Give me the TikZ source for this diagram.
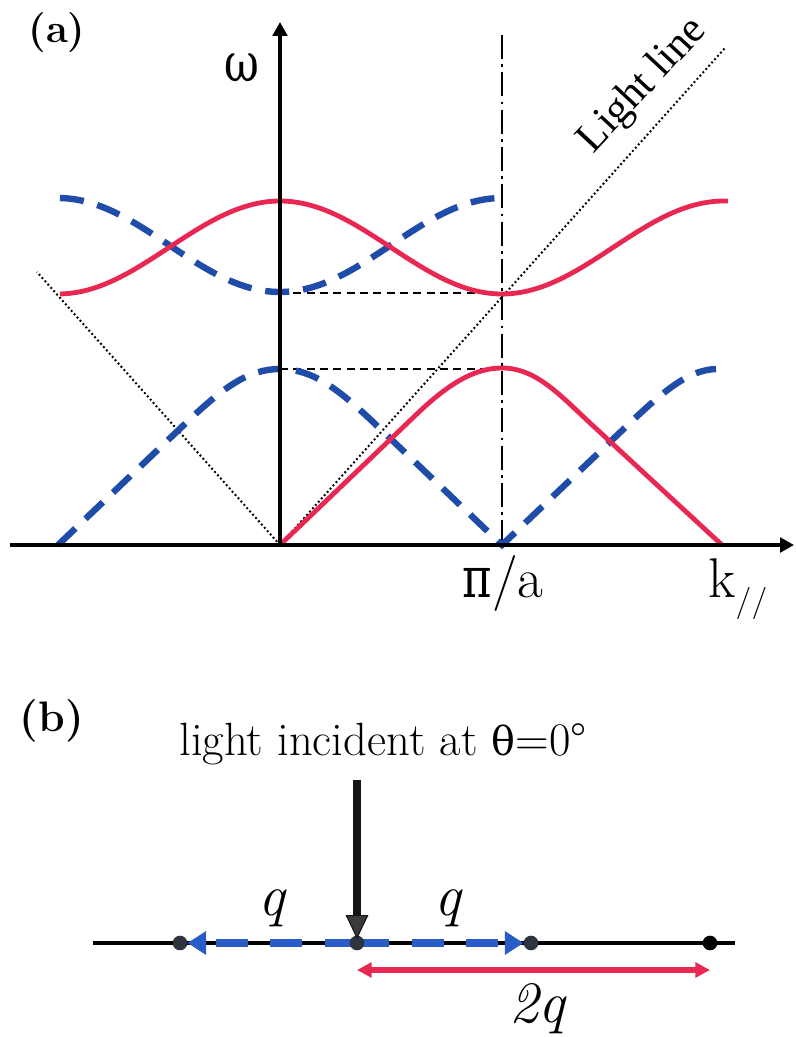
\documentclass[tikz,border=0pt]{standalone}
\usepackage{fontspec}
\setmainfont{Latin Modern Roman}
\newfontfamily\tnr{Liberation Serif}
\newfontfamily\grk{DejaVu Serif}
\usetikzlibrary{arrows.meta}
\definecolor{bred}{RGB}{232,40,82}
\definecolor{bblue}{RGB}{30,76,168}
\definecolor{lblue}{RGB}{42,92,200}
\definecolor{dotgray}{RGB}{45,52,62}
\definecolor{arrowgray}{RGB}{58,58,58}
\begin{document}
\begin{tikzpicture}[x=0.75pt,y=-0.75pt,
  axis/.style={line width=2.8pt, -{Triangle[length=10.5pt,width=11pt]}},
  redcurve/.style={bred, line width=3.6pt, line join=round},
  bluedash/.style={bblue, line width=4.8pt, dash pattern=on 18pt off 10.5pt},
  lightdot/.style={line width=1.5pt, dash pattern=on 1.4pt off 1.9pt},
  guidedash/.style={line width=1.5pt, dash pattern=on 6pt off 4pt},
  dashdotline/.style={line width=1.4pt, dash pattern=on 18pt off 4pt on 2pt off 4pt},
  txt/.style={inner sep=0pt, font=\fontsize{20}{24}\selectfont},
  lbl/.style={txt, anchor=base},
  dotn/.style={circle, fill=dotgray, minimum size=11pt, inner sep=0pt},
  qdash/.style={lblue, line width=6.5pt, dash pattern=on 24pt off 17pt, -{Triangle[length=14pt,width=17pt]}},
]
\useasboundingbox (0,0) rectangle (795,1037);

% ---------- panel (a) ----------
\coordinate (G) at (280,545);
\coordinate (P) at (502,545);
\coordinate (LLend) at (725,48);
\coordinate (LLleft) at (37,272);
\coordinate (DDtop) at (502,35);
\coordinate (H1a) at (280,293);
\coordinate (H1b) at (502,293);
\coordinate (H2a) at (280,369);
\coordinate (H2b) at (502,369);
\coordinate (Xl) at (10,545);
\coordinate (Xr) at (794,545);
\coordinate (Yt) at (280,22);

\draw[lightdot] (G) -- (LLend);
\draw[lightdot] (G) -- (LLleft);
\draw[dashdotline] (DDtop) -- (P);
\draw[guidedash] (H1a) -- (H1b);
\draw[guidedash] (H2a) -- (H2b);

% blue dashed bands
\draw[bluedash] plot[domain=60:502, samples=120] (\x,{245+47*cos(0.81081*(\x-280))});
\draw[bluedash] (58,545) -- (188,421) .. controls (223,388) and (248,369) .. (280,369)
  .. controls (312,369) and (337,388) .. (372,421) -- (502,545) -- (632,421)
  .. controls (667,388) and (690,370) .. (716,369);

% red solid bands
\draw[redcurve] plot[domain=60:728, samples=160] (\x,{247.5-46.5*cos(0.81081*(\x-280))});
\draw[redcurve] (G) -- (420,411) .. controls (450,383) and (475,368) .. (502,368)
  .. controls (535,368) and (558,393) .. (590,423) -- (722,545);

% axes
\draw[axis] (Xl) -- (Xr);
\draw[axis] (G) -- (Yt);

% labels (a)
\node[lbl, scale=1.5] (alabel) at (57,43) {\bfseries (a)};
\node[lbl, scale=2.0] (omega) at (242,82) {\grk\scalebox{0.8}[1]{ω}};
\node[lbl, scale=2.1] (pia) at (503,597) {{\grk\scalebox{0.8}[1]{π}}/a};
\node[lbl, anchor=base west, scale=2.1] (kpar) at (708,597)
  {k\raisebox{-5pt}{\fontsize{11.5}{13}\selectfont //}};
\node[txt, rotate=47, scale=1.6, font=\tnr\fontsize{20}{24}\selectfont] (lightline) at (643,86) {Light line};

% ---------- panel (b) ----------
\node[lbl, scale=1.6] (blabel) at (52,731) {\bfseries (b)};
\node[lbl, scale=1.75] (incid) at (383,755)
  {light incident at {\grk\fontsize{17}{20}\selectfont θ}=0°};

\coordinate (hl) at (93,943);
\coordinate (hr) at (735,943);
\draw[line width=3pt] (hl) -- (hr);

\coordinate (c1) at (180,943);
\coordinate (c2) at (357,943);
\coordinate (c3) at (531,943);
\coordinate (c4) at (710,943);

\draw[qdash] (c2) -- ([xshift=5.6pt]c1);
\draw[qdash] (c2) -- ([xshift=-5.6pt]c3);

\node[dotn] (d1) at (c1) {};
\node[dotn] (d2) at (c2) {};
\node[dotn] (d3) at (c3) {};
\node[dotn, fill=black] (d4) at (c4) {};

\coordinate (vtop) at (357,780);
\draw[line width=5.6pt, black!92, -{Triangle[length=18pt,width=17pt,fill=arrowgray,line width=0.8pt]}]
  (vtop) -- ([yshift=3pt]d2.center);

\coordinate (r1) at (357,970);
\coordinate (r2) at (710,970);
\draw[bred, line width=4pt, {Triangle[length=11pt,width=11pt]}-{Triangle[length=11pt,width=11pt]}] (r1) -- (r2);

\node[lbl, scale=2.2] (q1) at (272,915) {\itshape q};
\node[lbl, scale=2.2] (q2) at (448,915) {\itshape q};
\node[lbl, scale=2.2] (q3) at (537,1022) {\itshape 2q};
\end{tikzpicture}
\end{document}
